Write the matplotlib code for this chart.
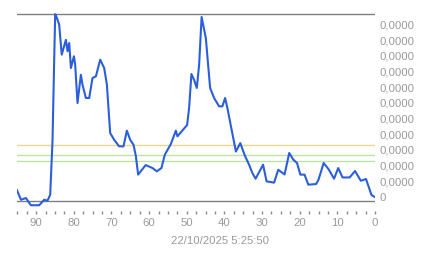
import numpy as np
import matplotlib.pyplot as plt
from matplotlib.ticker import FuncFormatter, MultipleLocator

# samples: x = seconds back, y = value in tick steps
x_vals = [95.1, 94.05, 92.73, 91.4, 89.2, 87.87, 87.0, 86.28, 85.67, 85.21,
          84.95, 84.5, 83.89, 83.22, 82.11, 81.68, 81.23, 80.78, 79.98, 79.64,
          79.03, 78.13, 77.7, 76.8, 75.92, 75.05, 74.14, 73.0, 71.94, 71.22,
          70.35, 69.29, 67.96, 66.82, 65.91, 65.04, 64.16, 63.53, 62.92, 60.92,
          59.12, 57.95, 56.73, 55.83, 54.23, 52.91, 52.48, 49.91, 49.38, 48.77,
          48.05, 47.33, 46.72, 46.06, 44.94, 43.8, 42.74, 41.41, 40.54, 39.82,
          39.21, 38.09, 36.95, 35.78, 34.64, 33.45, 32.57, 31.72, 29.73, 28.8,
          26.81, 25.7, 24.02, 22.78, 21.69, 20.71, 19.83, 18.72, 17.71, 15.66,
          15.0, 13.64, 12.29, 10.88, 9.77, 8.63, 6.74, 5.31, 3.77, 2.39,
          0.93, 0.0]
y_units = [0.68, 0.08, 0.19, -0.27, -0.27, 0.08, 0.02, 0.40, 3.80, 9.11,
           11.9, 11.66, 11.23, 9.32, 10.27, 9.54, 10.06, 8.47, 9.22, 8.68,
           6.24, 8.04, 7.41, 6.56, 6.56, 7.83, 7.94, 9.0, 8.47, 7.41,
           4.33, 3.90, 3.48, 3.48, 4.48, 3.90, 3.59, 2.87, 1.68, 2.29,
           2.10, 1.89, 2.10, 2.95, 3.63, 4.48, 4.12, 4.84, 5.92, 8.09,
           7.71, 7.20, 8.68, 11.72, 10.38, 7.20, 6.56, 6.03, 6.03, 6.56,
           5.92, 4.54, 3.15, 3.69, 2.93, 2.31, 1.78, 1.42, 2.31, 1.25,
           1.17, 1.99, 1.69, 3.06, 2.63, 2.42, 1.68, 1.68, 1.04, 1.08,
           1.36, 2.42, 2.01, 1.42, 2.10, 1.50, 1.50, 1.91, 1.29, 1.40,
           0.38, 0.25]
unit = 0.000004  # one y tick step, small enough that every label reads 0,0000
y_vals = [v * unit for v in y_units]

# reference levels
level_yellow = 3.57 * unit
level_green = [2.91 * unit, 2.55 * unit]
timestamp = '22/10/2025 5:25:50'

plt.rcParams['font.family'] = ['Liberation Sans', 'DejaVu Sans']

W, H = 443, 258
fig = plt.figure(figsize=(W / 100, H / 100), dpi=100)
# axes box in pixels: left 17, right 375, top 8, bottom 211
ax = fig.add_axes([17 / W, 1 - 211 / H, (375 - 17) / W, (211 - 8) / H])

ax.axhline(level_yellow, color='#ecd78a', lw=1.0, zorder=1)
for lv in level_green:
    ax.axhline(lv, color='#bde3a6', lw=1.0, zorder=1)
ax.axhline(0, color='#7f7f7f', lw=1.0, zorder=2)
ax.axhline(max(y_vals), color='#7f7f7f', lw=1.0, zorder=2)

ax.plot(x_vals, y_vals, color='#2b5fd9', lw=1.5, zorder=3,
        solid_joinstyle='round')

ax.set_xlim(95.1, 0)
# pixel 201 is zero, one tick = 15.7 px
ax.set_ylim(-10 / 15.7 * unit, 193 / 15.7 * unit)

for s in ax.spines.values():
    s.set_visible(False)

ax.xaxis.set_major_locator(MultipleLocator(10))
ax.xaxis.set_minor_locator(MultipleLocator(2.5))
ax.tick_params(axis='x', which='both', direction='out', length=2, width=1,
               color='#8c8c8c', labelsize=8.2, labelcolor='#9a9a9a', pad=3)

ax.set_yticks([i * unit for i in range(12)])
ax.yaxis.set_major_formatter(FuncFormatter(
    lambda v, p: '0' if abs(v) < unit / 10 else f'{v:.4f}'.replace('.', ',')))
ax.yaxis.tick_right()
ax.tick_params(axis='y', length=0, labelsize=8.2, labelcolor='#9a9a9a', pad=3.6)
plt.setp(ax.get_yticklabels(), va='baseline', ha='left')

ax.set_xlabel(timestamp, fontsize=8.2, color='#9a9a9a', va='center')
ax.xaxis.set_label_coords((220 - 17) / 358, -(241 - 211) / 203)

fig.savefig('out.png', dpi=100)
